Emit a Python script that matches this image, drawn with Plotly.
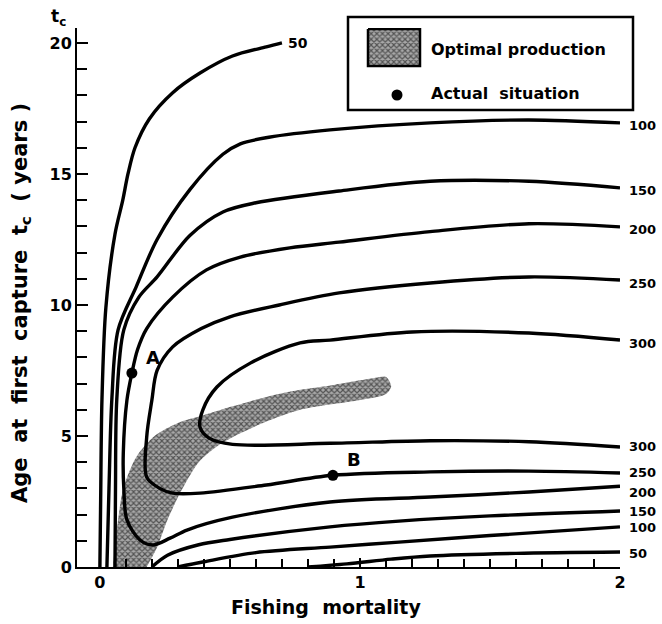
import plotly.graph_objects as go

# ------------------------------------------------------------------ data
# Yield isopleths (fishing mortality F, age at first capture tc)
F_50_UPPER = [0.0, 0.003, 0.008, 0.023, 0.058, 0.088, 0.108, 0.135, 0.19, 0.28, 0.385, 0.51, 0.64, 0.70]
TC_50_UPPER = [0.0, 2.6, 6.4, 9.9, 12.7, 14.0, 15.0, 16.0, 17.1, 18.1, 18.85, 19.5, 19.85, 20.0]

F_100_UPPER = [0.027, 0.035, 0.046, 0.07, 0.14, 0.22, 0.346, 0.473, 0.54, 0.65, 0.885, 1.27, 1.65, 2.0]
TC_100_UPPER = [0.0, 3.0, 6.4, 9.05, 10.7, 12.5, 14.4, 15.75, 16.15, 16.4, 16.68, 16.95, 17.06, 16.95]

F_150_UPPER = [0.058, 0.06, 0.065, 0.092, 0.15, 0.22, 0.346, 0.473, 0.6, 0.92, 1.27, 1.65, 2.0]
TC_150_UPPER = [0.0, 3.0, 6.4, 9.05, 10.3, 11.07, 12.65, 13.55, 13.9, 14.35, 14.72, 14.72, 14.47]

F_200 = [2.0, 1.65, 1.27, 0.92, 0.73, 0.54, 0.41, 0.28, 0.18, 0.145, 0.123, 0.104, 0.09, 0.092,
         0.104, 0.154, 0.204, 0.27, 0.335, 0.51, 0.885, 1.27, 1.65, 2.0]
TC_200 = [12.98, 13.1, 12.8, 12.4, 12.18, 11.83, 11.34, 10.3, 9.1, 8.3, 7.4, 6.37, 4.35, 3.0,
          1.8, 1.03, 0.84, 1.1, 1.41, 1.9, 2.48, 2.67, 2.86, 3.08]

F_250 = [2.0, 1.65, 1.27, 0.92, 0.69, 0.5, 0.39, 0.28, 0.22, 0.2, 0.18, 0.18, 0.23, 0.28,
         0.385, 0.64, 0.896, 1.27, 1.65, 2.0]
TC_250 = [10.95, 11.07, 10.84, 10.46, 10.0, 9.55, 9.1, 8.4, 7.5, 6.37, 4.96, 3.43, 3.0, 2.82,
          2.82, 3.13, 3.5, 3.63, 3.66, 3.59]

F_300 = [2.0, 1.65, 1.2, 0.885, 0.77, 0.58, 0.45, 0.396, 0.385, 0.42, 0.51, 0.885, 1.27, 1.65, 2.0]
TC_300 = [8.66, 8.93, 8.97, 8.66, 8.55, 7.79, 6.87, 6.0, 5.34, 4.92, 4.68, 4.72, 4.82, 4.78, 4.58]

F_150_LOWER = [0.2, 0.26, 0.38, 0.5, 0.885, 1.15, 1.5, 2.0]
TC_150_LOWER = [0.0, 0.45, 0.85, 1.05, 1.53, 1.75, 1.95, 2.14]

F_100_LOWER = [0.3, 0.4, 0.6, 0.885, 1.15, 1.5, 2.0]
TC_100_LOWER = [0.0, 0.2, 0.55, 0.76, 0.95, 1.2, 1.53]

F_50_LOWER = [0.8, 0.95, 1.12, 1.27, 1.6, 2.0]
TC_50_LOWER = [0.0, 0.12, 0.3, 0.42, 0.52, 0.57]

# Optimal production (eumetric) band outline
F_BAND = [0.05, 0.07, 0.09, 0.14, 0.21, 0.3, 0.385, 0.51, 0.64, 0.77, 0.9, 1.05, 1.1, 1.12,
          1.1, 1.0, 0.77, 0.64, 0.54, 0.45, 0.38, 0.31, 0.26, 0.22, 0.18]
TC_BAND = [0.0, 1.8, 3.0, 4.2, 5.0, 5.5, 5.75, 6.13, 6.49, 6.76, 6.95, 7.2, 7.25, 6.9,
           6.6, 6.37, 6.0, 5.55, 5.1, 4.6, 4.0, 2.85, 1.8, 0.75, 0.0]

# Actual situations
POINT_NAMES = ["A", "B"]
POINT_F = [0.123, 0.896]
POINT_TC = [7.4, 3.5]

X_TICK_VALS = [0, 1, 2]
X_TICK_TEXT = ["0", "1", "2"]
Y_TICK_VALS = [0, 5, 10, 15, 20]
Y_TICK_TEXT = ["0", "5", "10", "15", "20"]

# ------------------------------------------------------------------ layout helpers
W, H = 662, 624
PL, PR, PT, PB = 77, 620, 28, 567           # plot-area pixel box
def xp(px):
    return (px - PL) / (PR - PL)
def yp(py):
    return (PB - py) / (PB - PT)

FONT = "DejaVu Sans"
BLACK = "#000000"
LW = 3.4
LABEL_FONT = dict(family=FONT, size=13, color=BLACK, weight=700)
PATTERN = dict(shape="x", size=4, solidity=0.5, fgcolor="#000000", bgcolor="#a8a8a8")

curves = [
    (F_50_UPPER, TC_50_UPPER, "50", "top"),
    (F_100_UPPER, TC_100_UPPER, "100", "last"),
    (F_150_UPPER, TC_150_UPPER, "150", "last"),
    (F_200, TC_200, "200", "both"),
    (F_250, TC_250, "250", "both"),
    (F_300, TC_300, "300", "both"),
    (F_150_LOWER, TC_150_LOWER, "150", "last_low"),
    (F_100_LOWER, TC_100_LOWER, "100", "last_low"),
    (F_50_LOWER, TC_50_LOWER, "50", "last_low"),
]
UPPER_SHIFT = -3
LOWER_SHIFT = {"300": 0, "250": 0, "200": -6, "150": -1, "100": -1, "50": -1}

fig = go.Figure()

# optimal production band
fig.add_trace(go.Scatter(
    x=F_BAND, y=TC_BAND, mode="lines", fill="toself",
    line=dict(width=0, color="rgba(0,0,0,0)", shape="spline", smoothing=0.8),
    fillcolor="#6a6a6a", fillpattern=PATTERN,
    hoverinfo="skip", showlegend=False))

annotations = []
def right_label(x, y, text, shift):
    annotations.append(dict(x=x, y=y, xref="x", yref="y", text=text, showarrow=False,
                            xanchor="left", xshift=7, yshift=shift, font=LABEL_FONT))

for fx, fy, lab, where in curves:
    fig.add_trace(go.Scatter(
        x=fx, y=fy, mode="lines",
        line=dict(color=BLACK, width=LW, shape="spline", smoothing=0.9),
        hoverinfo="skip", showlegend=False))
    if where == "top":
        annotations.append(dict(x=fx[-1], y=fy[-1], xref="x", yref="y", text=lab,
                                showarrow=False, xanchor="left", xshift=4,
                                font=dict(family=FONT, size=14, color=BLACK, weight=700)))
    elif where == "last":
        right_label(fx[-1], fy[-1], lab, UPPER_SHIFT)
    elif where == "last_low":
        right_label(fx[-1], fy[-1], lab, LOWER_SHIFT[lab])
    else:  # both ends at right border
        right_label(fx[0], fy[0], lab, UPPER_SHIFT)
        right_label(fx[-1], fy[-1], lab, LOWER_SHIFT[lab])

# actual situation points
fig.add_trace(go.Scatter(
    x=POINT_F, y=POINT_TC, mode="markers",
    marker=dict(color=BLACK, size=11),
    hoverinfo="skip", showlegend=False))
for n, fx, fy in zip(POINT_NAMES, POINT_F, POINT_TC):
    annotations.append(dict(x=fx, y=fy, xref="x", yref="y", text=n, showarrow=False,
                            xshift=21, yshift=16,
                            font=dict(family=FONT, size=18, color=BLACK, weight=700)))

# ---- custom legend (overlay pixel axes) ----
SW = [368, 420, 29, 66]
fig.add_trace(go.Scatter(
    x=[SW[0], SW[1], SW[1], SW[0], SW[0]], y=[SW[2], SW[2], SW[3], SW[3], SW[2]],
    xaxis="x2", yaxis="y2", mode="lines", fill="toself",
    line=dict(color=BLACK, width=2.5),
    fillcolor="#6a6a6a", fillpattern=PATTERN,
    hoverinfo="skip", showlegend=False))
fig.add_trace(go.Scatter(
    x=[397], y=[95], xaxis="x2", yaxis="y2", mode="markers",
    marker=dict(color=BLACK, size=11), hoverinfo="skip", showlegend=False))

shapes = [dict(type="rect", xref="paper", yref="paper",
               x0=xp(348), x1=xp(633), y0=yp(110), y1=yp(17),
               line=dict(color=BLACK, width=2.5), fillcolor="rgba(0,0,0,0)")]

annotations += [
    dict(x=xp(429), y=yp(49), xref="paper", yref="paper", text="Optimal production",
         showarrow=False, xanchor="left", yanchor="middle",
         font=dict(family=FONT, size=16, color=BLACK, weight=700)),
    dict(x=xp(429), y=yp(93), xref="paper", yref="paper", text="Actual  situation",
         showarrow=False, xanchor="left", yanchor="middle",
         font=dict(family=FONT, size=16, color=BLACK, weight=700)),
    # axis titles
    dict(x=xp(21), y=yp(303), xref="paper", yref="paper",
         text="Age  at  first  capture  t<sub>c</sub>  ( years )", textangle=-90,
         showarrow=False, xanchor="center", yanchor="middle",
         font=dict(family=FONT, size=21, color=BLACK, weight=700)),
    dict(x=xp(326), y=yp(607), xref="paper", yref="paper", text="Fishing  mortality",
         showarrow=False, xanchor="center", yanchor="middle",
         font=dict(family=FONT, size=19, color=BLACK, weight=700)),
    dict(x=xp(58), y=yp(18), xref="paper", yref="paper", text="t<sub>c</sub>",
         showarrow=False, xanchor="center", yanchor="middle",
         font=dict(family=FONT, size=17, color=BLACK, weight=700)),
]

fig.update_layout(
    width=W, height=H,
    margin=dict(l=PL, r=W - PR, t=PT, b=H - PB, pad=0),
    paper_bgcolor="white", plot_bgcolor="white",
    showlegend=False, hovermode=False,
    font=dict(family=FONT, color=BLACK, weight=700),
    xaxis=dict(range=[-0.088, 2.0], showgrid=False, zeroline=False,
               showline=True, linecolor=BLACK, linewidth=2,
               ticks="inside", ticklen=9, tickwidth=2, tickcolor=BLACK,
               tickvals=X_TICK_VALS, ticktext=X_TICK_TEXT,
               tickfont=dict(family=FONT, size=16, color=BLACK, weight=700),
               minor=dict(tickmode="linear", tick0=0, dtick=0.1, ticks="inside",
                          ticklen=8, tickwidth=2, tickcolor=BLACK, showgrid=False)),
    yaxis=dict(range=[0, 20.57], showgrid=False, zeroline=False,
               showline=True, linecolor=BLACK, linewidth=2,
               ticks="inside", ticklen=11, tickwidth=2, tickcolor=BLACK,
               tickvals=Y_TICK_VALS, ticktext=Y_TICK_TEXT,
               tickfont=dict(family=FONT, size=16, color=BLACK, weight=700),
               minor=dict(tickmode="linear", tick0=0, dtick=1, ticks="inside",
                          ticklen=10, tickwidth=2, tickcolor=BLACK, showgrid=False)),
    xaxis2=dict(overlaying="x", range=[PL, PR], visible=False, fixedrange=True),
    yaxis2=dict(overlaying="y", range=[PB, PT], visible=False, fixedrange=True),
    shapes=shapes,
    annotations=annotations,
)

fig.write_html("out.html")
